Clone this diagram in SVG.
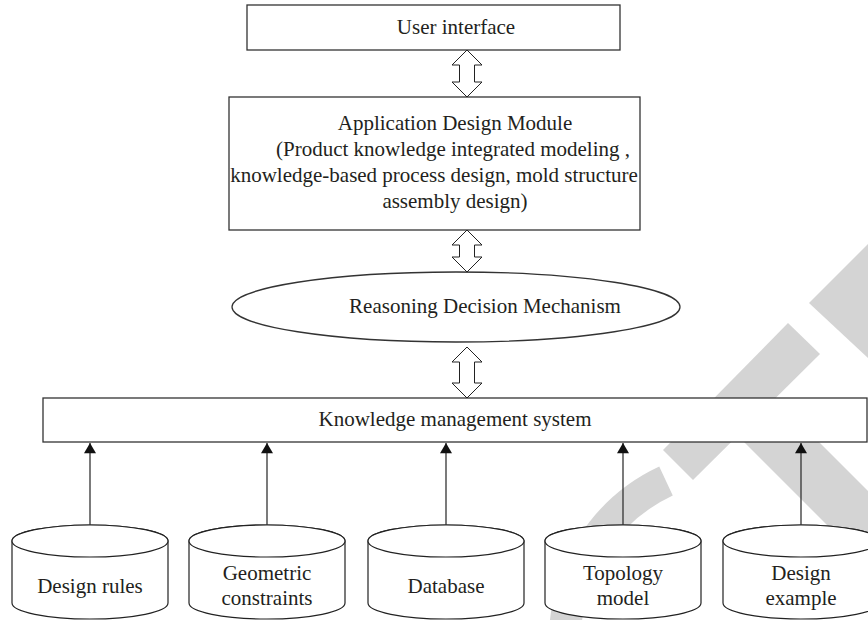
<svg xmlns="http://www.w3.org/2000/svg" width="868" height="620" viewBox="0 0 868 620">
  <defs>
    <style>
      .box { fill: #ffffff; stroke: #333333; stroke-width: 1.3; }
      .cyl { fill: #ffffff; stroke: #222222; stroke-width: 1.2; }
      .dbl { fill: #ffffff; stroke: #222222; stroke-width: 1; stroke-linejoin: miter; }
      .lbl { font-family: "Liberation Serif", "Times New Roman", serif; font-size: 21px; fill: #231f20; text-anchor: middle; }
      .feed { stroke: #333333; stroke-width: 1.3; fill: none; marker-end: url(#tip); }
      .mark { fill: #d4d4d4; stroke: none; }
    </style>
    <marker id="tip" markerUnits="userSpaceOnUse" markerWidth="14" markerHeight="12" refX="12" refY="7" orient="auto" viewBox="0 0 12 14">
      <path d="M0,0 L12,7 L0,14 Z" fill="#111111"/>
    </marker>
  </defs>

  <!-- background marks -->
  <g id="backdrop">
    <rect width="868" height="620" fill="#ffffff"/>
    <polygon class="mark" points="788,323 820,354 693,480 663,450"/>
    <polygon class="mark" points="809,303 868,244 868,358"/>
    <polygon class="mark" points="722,420 797,420 868,491 868,566"/>
    <path d="M 666 481 A 175 175 0 0 0 565 640" fill="none" stroke="#d4d4d4" stroke-width="32"/>
  </g>

  <g id="user-interface">
    <rect class="box" x="247" y="5" width="373" height="45"/>
    <text class="lbl" x="456" y="34">User interface</text>
  </g>

  <g id="application-design-module">
    <rect class="box" x="229" y="97" width="411" height="133"/>
    <text class="lbl" x="455" y="130">Application Design Module</text>
    <text class="lbl" x="453" y="156">(Product knowledge integrated modeling ,</text>
    <text class="lbl" x="434" y="182">knowledge-based process design, mold structure</text>
    <text class="lbl" x="455" y="208">assembly design)</text>
  </g>

  <g id="reasoning-decision-mechanism">
    <ellipse class="box" cx="456" cy="307" rx="224" ry="35"/>
    <text class="lbl" x="485" y="313">Reasoning Decision Mechanism</text>
  </g>

  <g id="knowledge-management-system">
    <rect class="box" x="43" y="398" width="824" height="44"/>
    <text class="lbl" x="455" y="426">Knowledge management system</text>
  </g>

  <g id="design-rules">
    <path class="cyl" d="M12,541 L12,603 A78,16 0 0 0 168,603 L168,541 A78,16 0 0 0 12,541 Z"/>
    <ellipse class="cyl" cx="90" cy="541" rx="78" ry="16"/>
    <text class="lbl" x="90" y="593">Design rules</text>
  </g>

  <g id="geometric-constraints">
    <path class="cyl" d="M189,541 L189,603 A78,16 0 0 0 345,603 L345,541 A78,16 0 0 0 189,541 Z"/>
    <ellipse class="cyl" cx="267" cy="541" rx="78" ry="16"/>
    <text class="lbl" x="267" y="580">Geometric</text>
    <text class="lbl" x="267" y="605">constraints</text>
  </g>

  <g id="database">
    <path class="cyl" d="M368,541 L368,603 A78,16 0 0 0 524,603 L524,541 A78,16 0 0 0 368,541 Z"/>
    <ellipse class="cyl" cx="446" cy="541" rx="78" ry="16"/>
    <text class="lbl" x="446" y="593">Database</text>
  </g>

  <g id="topology-model">
    <path class="cyl" d="M545,541 L545,603 A78,16 0 0 0 701,603 L701,541 A78,16 0 0 0 545,541 Z"/>
    <ellipse class="cyl" cx="623" cy="541" rx="78" ry="16"/>
    <text class="lbl" x="623" y="580">Topology</text>
    <text class="lbl" x="623" y="605">model</text>
  </g>

  <g id="design-example">
    <path class="cyl" d="M723,541 L723,603 A78,16 0 0 0 879,603 L879,541 A78,16 0 0 0 723,541 Z"/>
    <ellipse class="cyl" cx="801" cy="541" rx="78" ry="16"/>
    <text class="lbl" x="801" y="580">Design</text>
    <text class="lbl" x="801" y="605">example</text>
  </g>

  <g id="connectors">
    <!-- two-way hollow arrows between the stacked layers -->
    <polygon class="dbl" points="467,50 482,65 474.5,65 474.5,82 482,82 467,97 452,82 459.5,82 459.5,65 452,65"/>
    <polygon class="dbl" points="467,230 482,245 474.5,245 474.5,257 482,257 467,272 452,257 459.5,257 459.5,245 452,245"/>
    <polygon class="dbl" points="467,347 482,362 474.5,362 474.5,383 482,383 467,398 452,383 459.5,383 459.5,362 452,362"/>
    <!-- feeds from each knowledge source -->
    <line class="feed" x1="90" y1="525" x2="90" y2="443"/>
    <line class="feed" x1="267" y1="525" x2="267" y2="443"/>
    <line class="feed" x1="446" y1="525" x2="446" y2="443"/>
    <line class="feed" x1="623" y1="525" x2="623" y2="443"/>
    <line class="feed" x1="801" y1="525" x2="801" y2="443"/>
  </g>
</svg>
